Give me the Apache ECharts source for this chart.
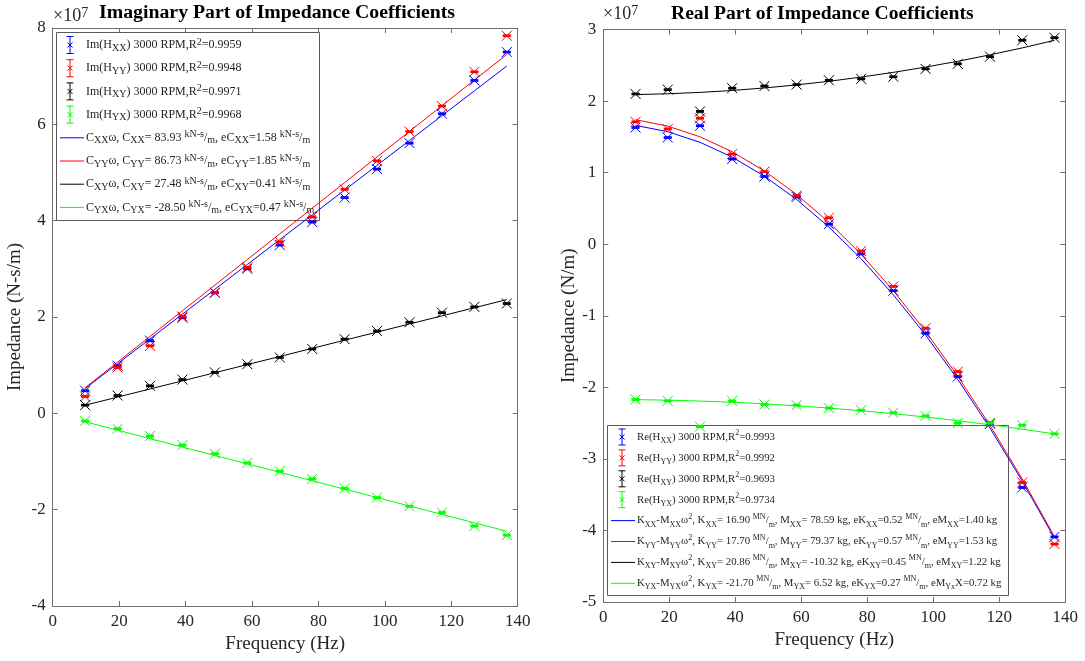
<!DOCTYPE html>
<html>
<head>
<meta charset="utf-8">
<script src="https://cdn.jsdelivr.net/npm/echarts@6/dist/echarts.min.js"></script>
<style>
  html, body { margin: 0; padding: 0; background: #ffffff; }
  #chart { width: 1085px; height: 661px; }
</style>
</head>
<body>
<div id="chart"></div>
<script>
// Excitation frequencies (Hz)
const freq = [9.77, 19.53, 29.30, 39.06, 48.83, 58.59, 68.36, 78.13, 87.89, 97.66, 107.42, 117.19, 126.95, 136.72];

// Imaginary part, measured (x 1e7 N-s/m)
const imXX = [0.47, 0.99, 1.51, 1.985, 2.50, 3.00, 3.495, 3.97, 4.48, 5.07, 5.61, 6.22, 6.91, 7.50];
const imYY = [0.35, 0.95, 1.40, 2.01, 2.51, 3.03, 3.56, 4.08, 4.65, 5.24, 5.85, 6.38, 7.09, 7.84];
const imXY = [0.17, 0.37, 0.57, 0.70, 0.85, 1.02, 1.16, 1.335, 1.54, 1.71, 1.89, 2.09, 2.21, 2.28];
const imYX = [-0.16, -0.32, -0.47, -0.66, -0.84, -1.03, -1.20, -1.36, -1.56, -1.75, -1.93, -2.06, -2.34, -2.53];
const imErr = [0.012, 0.012, 0.012, 0.012, 0.012, 0.012, 0.012, 0.012, 0.012, 0.012, 0.012, 0.012, 0.012, 0.012];

// Imaginary part, damping fit C*omega (x 1e7 N-s/m)
const fitCXX = [0.515, 1.030, 1.545, 2.060, 2.575, 3.090, 3.605, 4.120, 4.635, 5.150, 5.665, 6.180, 6.695, 7.210];
const fitCYY = [0.532, 1.064, 1.597, 2.129, 2.661, 3.193, 3.725, 4.258, 4.790, 5.322, 5.854, 6.386, 6.919, 7.451];
const fitCXY = [0.169, 0.337, 0.506, 0.674, 0.843, 1.012, 1.180, 1.349, 1.518, 1.686, 1.855, 2.023, 2.192, 2.361];
const fitCYX = [-0.175, -0.350, -0.525, -0.700, -0.874, -1.049, -1.224, -1.399, -1.574, -1.749, -1.924, -2.099, -2.273, -2.448];

// Real part, measured (x 1e7 N/m)
const reXX = [1.63, 1.49, 1.655, 1.19, 0.945, 0.66, 0.28, -0.135, -0.65, -1.245, -1.85, -2.51, -3.40, -4.09];
const reYY = [1.71, 1.61, 1.76, 1.26, 1.015, 0.68, 0.37, -0.095, -0.59, -1.175, -1.78, -2.495, -3.33, -4.19];
const reXY = [2.10, 2.16, 1.855, 2.18, 2.21, 2.23, 2.29, 2.31, 2.34, 2.45, 2.52, 2.62, 2.85, 2.885];
const reYX = [-2.17, -2.19, -2.55, -2.19, -2.24, -2.25, -2.29, -2.32, -2.355, -2.40, -2.50, -2.50, -2.53, -2.65];
const reErr = [0.008, 0.008, 0.008, 0.008, 0.008, 0.008, 0.008, 0.008, 0.008, 0.008, 0.008, 0.008, 0.008, 0.008];

// Real part, stiffness/mass fit K - M*omega^2 (x 1e7 N/m)
const fitKXX = [1.660, 1.572, 1.424, 1.217, 0.950, 0.625, 0.240, -0.204, -0.707, -1.269, -1.890, -2.571, -3.310, -4.109];
const fitKYY = [1.740, 1.650, 1.501, 1.292, 1.023, 0.694, 0.306, -0.142, -0.650, -1.218, -1.846, -2.533, -3.280, -4.087];
const fitKXY = [2.090, 2.102, 2.121, 2.148, 2.183, 2.226, 2.276, 2.335, 2.401, 2.475, 2.556, 2.646, 2.743, 2.848];
const fitKYX = [-2.172, -2.180, -2.192, -2.209, -2.231, -2.258, -2.290, -2.327, -2.369, -2.415, -2.467, -2.523, -2.585, -2.651];

// Axis ticks
const xTicks = { min: 0, max: 140, step: 20 };
const yTicksIm = { min: -4, max: 8, step: 2 };
const yTicksRe = { min: -5, max: 3, step: 1 };

// Legend entries (rich text: {s|..} subscript, {p|..} superscript)
const imLegend = [
  'Im(H{s|XX}) 3000 RPM,R{p|2}=0.9959',
  'Im(H{s|YY}) 3000 RPM,R{p|2}=0.9948',
  'Im(H{s|XY}) 3000 RPM,R{p|2}=0.9971',
  'Im(H{s|YX}) 3000 RPM,R{p|2}=0.9968',
  'C{s|XX}ω, C{s|XX}= 83.93 {p|kN-s}/{s|m}, eC{s|XX}=1.58 {p|kN-s}/{s|m}',
  'C{s|YY}ω, C{s|YY}= 86.73 {p|kN-s}/{s|m}, eC{s|YY}=1.85 {p|kN-s}/{s|m}',
  'C{s|XY}ω, C{s|XY}= 27.48 {p|kN-s}/{s|m}, eC{s|XY}=0.41 {p|kN-s}/{s|m}',
  'C{s|YX}ω, C{s|YX}= -28.50 {p|kN-s}/{s|m}, eC{s|YX}=0.47 {p|kN-s}/{s|m}'
];
const reLegend = [
  'Re(H{s|XX}) 3000 RPM,R{p|2}=0.9993',
  'Re(H{s|YY}) 3000 RPM,R{p|2}=0.9992',
  'Re(H{s|XY}) 3000 RPM,R{p|2}=0.9693',
  'Re(H{s|YX}) 3000 RPM,R{p|2}=0.9734',
  'K{s|XX}-M{s|XX}ω{p|2}, K{s|XX}= 16.90 {p|MN}/{s|m}, M{s|XX}= 78.59 kg, eK{s|XX}=0.52 {p|MN}/{s|m}, eM{s|XX}=1.40 kg',
  'K{s|YY}-M{s|YY}ω{p|2}, K{s|YY}= 17.70 {p|MN}/{s|m}, M{s|YY}= 79.37 kg, eK{s|YY}=0.57 {p|MN}/{s|m}, eM{s|YY}=1.53 kg',
  'K{s|XY}-M{s|XY}ω{p|2}, K{s|XY}= 20.86 {p|MN}/{s|m}, M{s|XY}= -10.32 kg, eK{s|XY}=0.45 {p|MN}/{s|m}, eM{s|XY}=1.22 kg',
  'K{s|YX}-M{s|YX}ω{p|2}, K{s|YX}= -21.70 {p|MN}/{s|m}, M{s|YX}= 6.52 kg, eK{s|YX}=0.27 {p|MN}/{s|m}, eM{s|Yx}X=0.72 kg'
];

const BLUE = '#0000ff', RED = '#ff0000', BLACK = '#000000', GREEN = '#00ff00';
const colors = [BLUE, RED, BLACK, GREEN];
const SERIF = '"Liberation Serif", "Times New Roman", serif';
const AXIS_COLOR = '#6e6e6e';
const TEXT_COLOR = '#262626';

const chart = echarts.init(document.getElementById('chart'), null, { renderer: 'canvas' });

// Measured points: x marker with a small capped error bar
function errorSeries(axis, vals, errs, color) {
  return {
    type: 'custom',
    xAxisIndex: axis * 2,
    yAxisIndex: axis * 2,
    z: 3,
    data: freq.map((f, i) => [f, vals[i], errs[i]]),
    encode: { x: 0, y: 1 },
    renderItem: function (params, api) {
      const x = api.value(0), y = api.value(1), e = api.value(2);
      const p = api.coord([x, y]);
      const hi = api.coord([x, y + e]);
      const lo = api.coord([x, y - e]);
      const s = 5, c = 4;
      const st = { stroke: color, lineWidth: 1, fill: null };
      const cap = { stroke: color, lineWidth: 1.6, fill: null };
      return {
        type: 'group',
        children: [
          { type: 'line', shape: { x1: p[0], y1: hi[1], x2: p[0], y2: lo[1] }, style: st },
          { type: 'line', shape: { x1: p[0] - c, y1: hi[1], x2: p[0] + c, y2: hi[1] }, style: cap },
          { type: 'line', shape: { x1: p[0] - c, y1: lo[1], x2: p[0] + c, y2: lo[1] }, style: cap },
          { type: 'line', shape: { x1: p[0] - s, y1: p[1] - s, x2: p[0] + s, y2: p[1] + s }, style: st },
          { type: 'line', shape: { x1: p[0] - s, y1: p[1] + s, x2: p[0] + s, y2: p[1] - s }, style: st }
        ]
      };
    }
  };
}

// Fitted curves
function fitSeries(axis, vals, color) {
  return {
    type: 'line',
    xAxisIndex: axis * 2,
    yAxisIndex: axis * 2,
    z: 2,
    data: freq.map((f, i) => [f, vals[i]]),
    showSymbol: false,
    symbol: 'none',
    silent: true,
    lineStyle: { color: color, width: 1 },
    animation: false
  };
}

function xAxisDef(grid, pos) {
  const bottom = pos === 'bottom';
  return {
    type: 'value', gridIndex: grid, position: pos,
    min: xTicks.min, max: xTicks.max, interval: xTicks.step,
    axisLine: { show: true, onZero: false, lineStyle: { color: AXIS_COLOR, width: 1 } },
    axisTick: { show: true, inside: true, length: 5, lineStyle: { color: AXIS_COLOR } },
    axisLabel: { show: bottom, color: TEXT_COLOR, fontFamily: SERIF, fontSize: 17, margin: 7 },
    splitLine: { show: false },
    name: bottom ? 'Frequency (Hz)' : '',
    nameLocation: 'middle', nameGap: 27,
    nameTextStyle: { color: TEXT_COLOR, fontFamily: SERIF, fontSize: 19 }
  };
}

function yAxisDef(grid, pos, ticks, name, gap) {
  const left = pos === 'left';
  return {
    type: 'value', gridIndex: grid, position: pos,
    min: ticks.min, max: ticks.max, interval: ticks.step,
    axisLine: { show: true, onZero: false, lineStyle: { color: AXIS_COLOR, width: 1 } },
    axisTick: { show: true, inside: true, length: 5, lineStyle: { color: AXIS_COLOR } },
    axisLabel: { show: left, color: TEXT_COLOR, fontFamily: SERIF, fontSize: 17, margin: 7 },
    splitLine: { show: false },
    name: left ? name : '',
    nameLocation: 'middle', nameGap: gap, nameRotate: 90,
    nameTextStyle: { color: TEXT_COLOR, fontFamily: SERIF, fontSize: 19 }
  };
}

const richStyles = (sub) => ({
  s: { fontFamily: SERIF, fontSize: sub, lineHeight: 8, verticalAlign: 'bottom', fill: TEXT_COLOR },
  p: { fontFamily: SERIF, fontSize: sub, lineHeight: 8, verticalAlign: 'top', fill: TEXT_COLOR }
});

// Boxed legend drawn as graphic elements
function legendGraphic(box, rows, layout) {
  const children = [{
    type: 'rect',
    shape: { x: box.x, y: box.y, width: box.w, height: box.h },
    style: { fill: '#ffffff', stroke: '#5a5a5a', lineWidth: 1 }
  }];
  rows.forEach((txt, i) => {
    const cy = layout.y0 + i * layout.dy;
    const color = colors[i % 4];
    if (i < 4) {
      const ix = layout.iconX, h = layout.iconH / 2, c = 3.5, s = 2.5;
      const st = { stroke: color, lineWidth: 1, fill: null };
      children.push(
        { type: 'line', shape: { x1: ix, y1: cy - h, x2: ix, y2: cy + h }, style: st },
        { type: 'line', shape: { x1: ix - c, y1: cy - h, x2: ix + c, y2: cy - h }, style: st },
        { type: 'line', shape: { x1: ix - c, y1: cy + h, x2: ix + c, y2: cy + h }, style: st },
        { type: 'line', shape: { x1: ix - s, y1: cy - s, x2: ix + s, y2: cy + s }, style: st },
        { type: 'line', shape: { x1: ix - s, y1: cy + s, x2: ix + s, y2: cy - s }, style: st }
      );
    } else {
      children.push({ type: 'line', shape: { x1: layout.lineX1, y1: cy, x2: layout.lineX2, y2: cy }, style: { stroke: color, lineWidth: 1 } });
    }
    children.push({
      type: 'text', x: layout.textX, y: cy,
      style: {
        text: txt, fontFamily: SERIF, fontSize: layout.fs, fill: TEXT_COLOR,
        lineHeight: 16, align: 'left', verticalAlign: 'middle', rich: richStyles(layout.sub)
      }
    });
  });
  return { type: 'group', z: 100, children: children };
}

const option = {
  backgroundColor: '#ffffff',
  animation: false,
  grid: [
    { left: 52.7, right: 1085 - 517.7, top: 28, bottom: 661 - 606 },
    { left: 603.3, right: 1085 - 1065.3, top: 29.5, bottom: 661 - 602 }
  ],
  xAxis: [xAxisDef(0, 'bottom'), xAxisDef(0, 'top'), xAxisDef(1, 'bottom'), xAxisDef(1, 'top')],
  yAxis: [
    yAxisDef(0, 'left', yTicksIm, 'Impedance (N-s/m)', 28),
    yAxisDef(0, 'right', yTicksIm, '', 0),
    yAxisDef(1, 'left', yTicksRe, 'Impedance (N/m)', 16),
    yAxisDef(1, 'right', yTicksRe, '', 0)
  ],
  series: [
    errorSeries(0, imXX, imErr, BLUE),
    errorSeries(0, imYY, imErr, RED),
    errorSeries(0, imXY, imErr, BLACK),
    errorSeries(0, imYX, imErr, GREEN),
    fitSeries(0, fitCXX, BLUE),
    fitSeries(0, fitCYY, RED),
    fitSeries(0, fitCXY, BLACK),
    fitSeries(0, fitCYX, GREEN),
    errorSeries(1, reXX, reErr, BLUE),
    errorSeries(1, reYY, reErr, RED),
    errorSeries(1, reXY, reErr, BLACK),
    errorSeries(1, reYX, reErr, GREEN),
    fitSeries(1, fitKXX, BLUE),
    fitSeries(1, fitKYY, RED),
    fitSeries(1, fitKXY, BLACK),
    fitSeries(1, fitKYX, GREEN)
  ],
  graphic: [
    {
      type: 'text', x: 99, y: 13,
      style: { text: 'Imaginary Part of Impedance Coefficients', fontFamily: SERIF, fontWeight: 'bold', fontSize: 19.8, fill: '#000', align: 'left', verticalAlign: 'middle' }
    },
    {
      type: 'text', x: 671, y: 14,
      style: { text: 'Real Part of Impedance Coefficients', fontFamily: SERIF, fontWeight: 'bold', fontSize: 19.6, fill: '#000', align: 'left', verticalAlign: 'middle' }
    },
    {
      type: 'text', x: 53, y: 16,
      style: { text: '×10{p|7}', fontFamily: SERIF, fontSize: 18, fill: TEXT_COLOR, lineHeight: 20, align: 'left', verticalAlign: 'middle',
        rich: { p: { fontFamily: SERIF, fontSize: 14, lineHeight: 10, verticalAlign: 'top', fill: TEXT_COLOR } } }
    },
    {
      type: 'text', x: 603, y: 14,
      style: { text: '×10{p|7}', fontFamily: SERIF, fontSize: 18, fill: TEXT_COLOR, lineHeight: 20, align: 'left', verticalAlign: 'middle',
        rich: { p: { fontFamily: SERIF, fontSize: 14, lineHeight: 10, verticalAlign: 'top', fill: TEXT_COLOR } } }
    },
    legendGraphic({ x: 56.5, y: 32.5, w: 263, h: 188 }, imLegend,
      { y0: 45, dy: 23.2, iconX: 70, iconH: 17, lineX1: 60, lineX2: 84, textX: 86, fs: 12, sub: 10 }),
    legendGraphic({ x: 607.5, y: 425.5, w: 401, h: 170 }, reLegend,
      { y0: 437, dy: 20.9, iconX: 622, iconH: 16, lineX1: 611, lineX2: 635, textX: 637, fs: 10.8, sub: 8 })
  ]
};

chart.setOption(option);
</script>
</body>
</html>
